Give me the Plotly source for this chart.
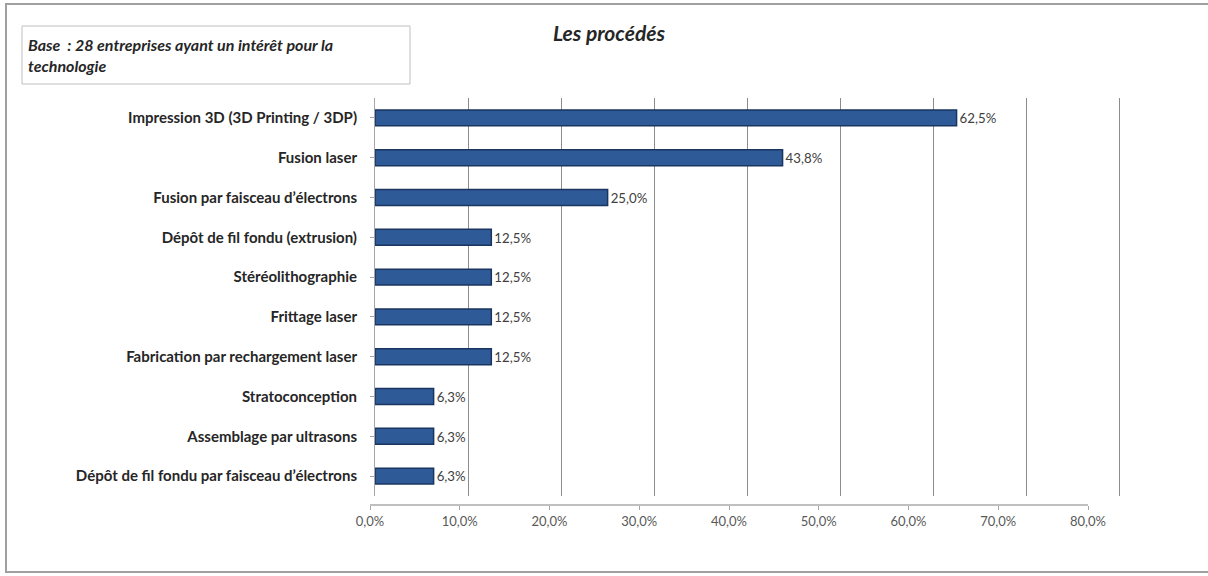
import plotly.graph_objects as go

categories = [
    "Impression 3D (3D Printing / 3DP)",
    "Fusion laser",
    "Fusion par faisceau d’électrons",
    "Dépôt de fil fondu (extrusion)",
    "Stéréolithographie",
    "Frittage laser",
    "Fabrication par rechargement laser",
    "Stratoconception",
    "Assemblage par ultrasons",
    "Dépôt de fil fondu par faisceau d’électrons",
]
values = [62.5, 43.8, 25.0, 12.5, 12.5, 12.5, 12.5, 6.3, 6.3, 6.3]
tick_values = [0, 10, 20, 30, 40, 50, 60, 70, 80]
tick_labels = ["0,0%", "10,0%", "20,0%", "30,0%", "40,0%", "50,0%", "60,0%", "70,0%", "80,0%"]

W, H = 1208, 576
def px(x):
    return x / W
def py(y):
    return 1 - y / H

FONT = "Lato, 'Open Sans', sans-serif"

fig = go.Figure()
fig.add_trace(go.Bar(
    x=values, y=categories, orientation="h",
    marker=dict(color="#2f5a98", line=dict(color="#1a355f", width=1.5)),
    width=0.4,
    text=values, texttemplate="%{x:.1f}%", textposition="outside",
    textfont=dict(family=FONT, size=15, color="#404040"),
    cliponaxis=False,
    xaxis="x", yaxis="y",
))
# invisible helper trace so the label axis (x2) is drawn
fig.add_trace(go.Scatter(
    x=[tick_values[0], tick_values[-1]], y=[0, 1],
    mode="none", hoverinfo="skip", showlegend=False, xaxis="x2", yaxis="y2",
))

fig.update_layout(
    width=W, height=H, autosize=False,
    margin=dict(l=0, r=0, t=0, b=0, pad=0),
    paper_bgcolor="white", plot_bgcolor="white",
    separators=", ",
    showlegend=False,
    font=dict(family=FONT, color="#404040"),
    xaxis=dict(
        domain=[px(375), px(1125)], range=[0, 80.6],
        tickvals=tick_values, showticklabels=False, automargin=False,
        showgrid=True, gridcolor="#8c8c8c", gridwidth=1,
        zeroline=False, showline=False, anchor="y",
    ),
    xaxis2=dict(
        domain=[px(370), px(1088)], range=[0, 80],
        anchor="free", position=py(505), side="bottom", automargin=False,
        tickvals=tick_values, ticktext=tick_labels,
        showgrid=False, zeroline=False,
        showline=True, linecolor="#bfbfbf", linewidth=2,
        ticks="outside", ticklen=4, tickcolor="#a6a6a6",
        tickfont=dict(family=FONT, size=13, color="#595959"),
    ),
    yaxis=dict(
        domain=[py(496), py(98)], automargin=False,
        autorange="reversed", type="category",
        showline=True, linecolor="#a6a6a6", linewidth=1,
        ticks="outside", ticklen=4, tickcolor="#a6a6a6",
        ticklabelstandoff=10,
        showgrid=False, anchor="x",
        tickfont=dict(family=FONT, size=15, color="#262626", weight="bold"),
    ),
    yaxis2=dict(
        domain=[py(504), py(500)], range=[0, 1], anchor="x2", automargin=False,
        visible=False, showgrid=False, zeroline=False,
    ),
    shapes=[
        dict(type="rect", xref="paper", yref="paper",
             x0=px(6), x1=1.02, y0=py(572), y1=py(4),
             line=dict(color="#a0a0a0", width=2)),
        dict(type="rect", xref="paper", yref="paper",
             x0=px(22), x1=px(410), y0=py(84), y1=py(26),
             line=dict(color="#bfbfbf", width=1)),
    ],
    annotations=[
        dict(text="<b><i>Les procédés</i></b>", xref="paper", yref="paper",
             x=px(609), y=py(32), xanchor="center", yanchor="middle",
             showarrow=False, font=dict(family=FONT, size=21, color="#262626")),
        dict(text="<b><i>Base  : 28 entreprises ayant un intérêt pour la<br>technologie</i></b>",
             xref="paper", yref="paper", x=px(26), y=py(55), xanchor="left",
             yanchor="middle", align="left", showarrow=False,
             font=dict(family=FONT, size=16, color="#262626")),
    ],
)

fig.write_html(
    "out.html",
    config={"responsive": False},
    post_script="document.body.style.margin='0';document.body.style.overflow='hidden';",
)
